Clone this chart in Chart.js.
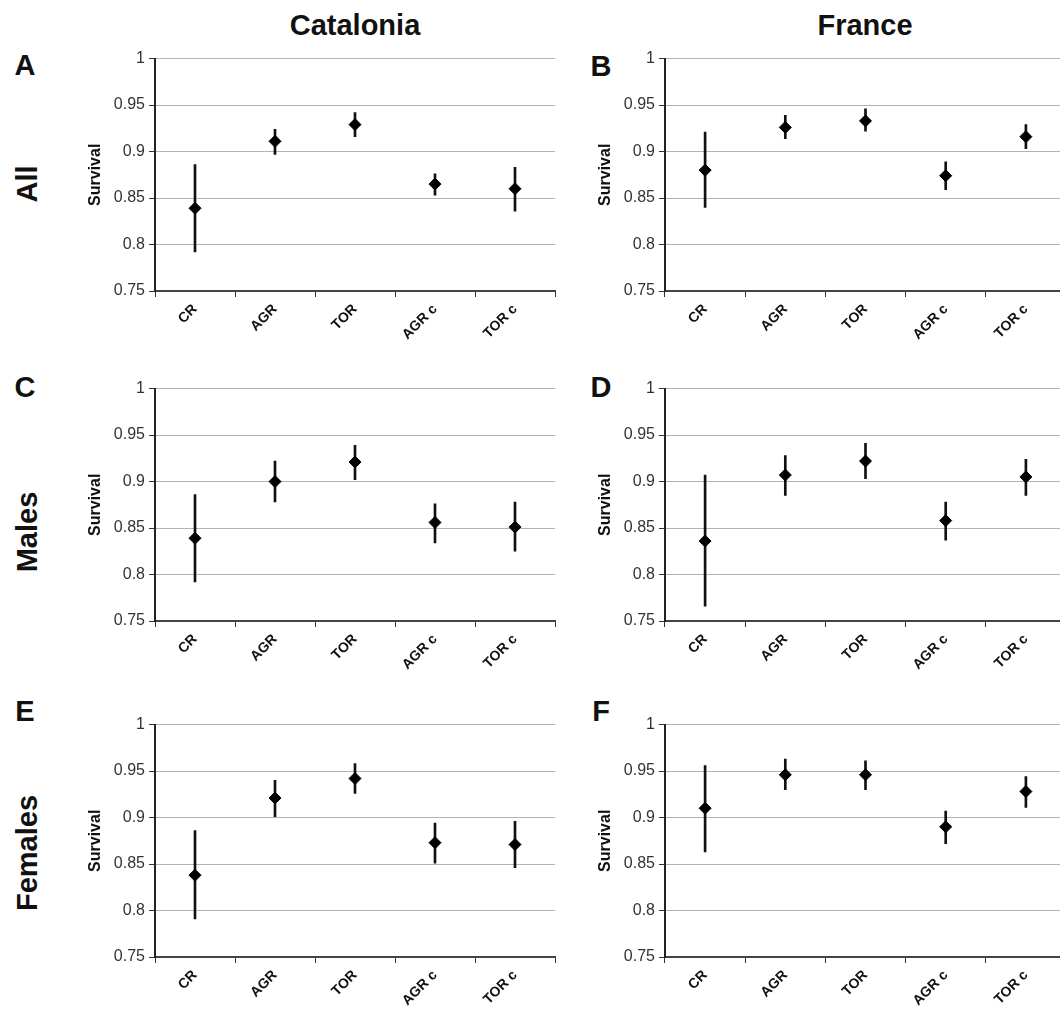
<!DOCTYPE html>
<html>
<head>
<meta charset="utf-8">
<script src="https://cdn.jsdelivr.net/npm/chart.js@4"></script>
<style>
  html, body { margin: 0; padding: 0; background: #fff; overflow: hidden; }
  #page { position: relative; width: 1060px; height: 1015px; overflow: hidden; font-family: "Liberation Sans", Arial, sans-serif; }
  .big { position: absolute; font-weight: bold; font-size: 29px; line-height: 1; color: #111; transform: translate(-50%, -50%); white-space: nowrap; }
  .rot { transform: translate(-50%, -50%) rotate(-90deg); }
  canvas { position: absolute; }
</style>
</head>
<body>
<div id="page">
  <div class="big" style="left:355px;top:25px">Catalonia</div>
  <div class="big" style="left:865px;top:25px">France</div>

  <div class="big" style="left:25px;top:65px">A</div>
  <div class="big" style="left:601px;top:66px">B</div>
  <div class="big" style="left:25px;top:387px">C</div>
  <div class="big" style="left:601px;top:387px">D</div>
  <div class="big" style="left:25px;top:711px">E</div>
  <div class="big" style="left:601px;top:711px">F</div>

  <div class="big rot" style="left:27px;top:184px">All</div>
  <div class="big rot" style="left:27px;top:532px">Males</div>
  <div class="big rot" style="left:27px;top:853px">Females</div>

  <canvas id="chartA" width="485" height="296" style="left:82px;top:45px"></canvas>
  <canvas id="chartB" width="486" height="296" style="left:592px;top:45px"></canvas>
  <canvas id="chartC" width="485" height="296" style="left:82px;top:375px"></canvas>
  <canvas id="chartD" width="486" height="296" style="left:592px;top:375px"></canvas>
  <canvas id="chartE" width="485" height="296" style="left:82px;top:711px"></canvas>
  <canvas id="chartF" width="486" height="296" style="left:592px;top:711px"></canvas>
</div>

<script>
const categories = ['CR', 'AGR', 'TOR', 'AGR c', 'TOR c'];
const yMin = 0.75;
const yMax = 1;
const yStep = 0.05;

// Catalonia
const catAll = [0.839, 0.911, 0.929, 0.865, 0.860];
const catAllLow = [0.792, 0.897, 0.916, 0.853, 0.836];
const catAllHigh = [0.886, 0.924, 0.942, 0.876, 0.883];

const catMales = [0.839, 0.900, 0.921, 0.856, 0.851];
const catMalesLow = [0.792, 0.878, 0.902, 0.834, 0.825];
const catMalesHigh = [0.886, 0.922, 0.939, 0.876, 0.878];

const catFemales = [0.838, 0.921, 0.942, 0.873, 0.871];
const catFemalesLow = [0.791, 0.901, 0.926, 0.851, 0.846];
const catFemalesHigh = [0.886, 0.940, 0.958, 0.894, 0.896];

// France
const fraAll = [0.880, 0.926, 0.933, 0.874, 0.916];
const fraAllLow = [0.840, 0.914, 0.922, 0.859, 0.903];
const fraAllHigh = [0.921, 0.939, 0.946, 0.889, 0.929];

const fraMales = [0.836, 0.907, 0.922, 0.858, 0.905];
const fraMalesLow = [0.766, 0.885, 0.903, 0.837, 0.885];
const fraMalesHigh = [0.907, 0.928, 0.941, 0.878, 0.924];

const fraFemales = [0.910, 0.946, 0.946, 0.890, 0.928];
const fraFemalesLow = [0.863, 0.930, 0.930, 0.872, 0.911];
const fraFemalesHigh = [0.956, 0.963, 0.961, 0.907, 0.944];

const fontFamily = '"Liberation Sans", Arial, sans-serif';

function makeChart(id, means, lows, highs) {
  const ctx = document.getElementById(id);
  return new Chart(ctx, {
    type: 'bar',
    data: {
      labels: categories,
      datasets: [
        {
          type: 'line',
          data: means,
          showLine: false,
          pointStyle: 'rectRot',
          pointRadius: 6,
          pointBorderWidth: 1,
          backgroundColor: '#000',
          borderColor: '#000',
          order: 1
        },
        {
          type: 'bar',
          data: lows.map((lo, i) => [lo, highs[i]]),
          backgroundColor: '#111',
          barThickness: 2,
          order: 2
        }
      ]
    },
    options: {
      responsive: false,
      animation: false,
      layout: { padding: { top: 12, right: 12, left: 0, bottom: 0 } },
      plugins: { legend: { display: false }, tooltip: { enabled: false } },
      scales: {
        x: {
          offset: true,
          grid: {
            offset: true,
            drawOnChartArea: true,
            color: c => c.index === categories.length ? '#a8a8a8' : 'rgba(0,0,0,0)',
            tickColor: '#333',
            tickLength: 6
          },
          border: { color: '#444', width: 2 },
          ticks: {
            autoSkip: false,
            minRotation: 45,
            maxRotation: 45,
            padding: 4,
            color: '#111',
            font: { family: fontFamily, size: 14, weight: 'bold' }
          },
          afterFit: s => { s.height = 50; }
        },
        y: {
          min: yMin,
          max: yMax,
          grid: { color: '#b4b4b4', tickColor: '#333', tickLength: 6 },
          border: { color: '#222', width: 2 },
          ticks: {
            stepSize: yStep,
            padding: 4,
            color: '#333',
            font: { family: fontFamily, size: 16 },
            callback: v => String(+v.toFixed(2))
          },
          title: {
            display: true,
            text: 'Survival',
            color: '#111',
            font: { family: fontFamily, size: 16, weight: 'bold' },
            padding: { top: 4, bottom: 4 }
          },
          afterFit: s => { s.width = 73; }
        }
      }
    }
  });
}

makeChart('chartA', catAll, catAllLow, catAllHigh);
makeChart('chartB', fraAll, fraAllLow, fraAllHigh);
makeChart('chartC', catMales, catMalesLow, catMalesHigh);
makeChart('chartD', fraMales, fraMalesLow, fraMalesHigh);
makeChart('chartE', catFemales, catFemalesLow, catFemalesHigh);
makeChart('chartF', fraFemales, fraFemalesLow, fraFemalesHigh);
</script>
</body>
</html>
